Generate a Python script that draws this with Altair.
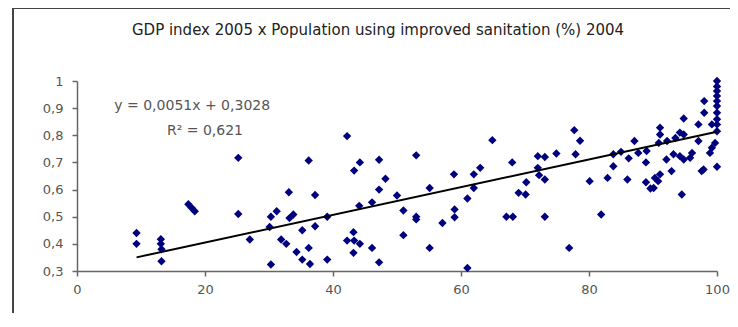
import altair as alt
import pandas as pd

title_text = "GDP index 2005 x Population using improved sanitation (%) 2004"

x_vals = [
    9.3, 9.3, 13.1, 13.1, 13.2, 13.2, 17.4, 17.9, 18.4,
    25.2, 25.2, 27.0, 30.1, 30.3, 30.3, 31.2, 31.9, 32.7, 33.1, 33.2, 33.8,
    34.3, 35.2, 35.2, 36.2, 36.2, 36.4, 37.2, 37.2, 39.1, 39.1,
    42.2, 43.3, 44.2, 47.2, 53.0, 48.2, 47.2, 58.9, 55.1, 50.0, 46.1, 44.1,
    51.0, 53.0, 53.0, 57.1, 59.0, 59.0, 43.2, 42.2, 43.3, 44.2, 43.2, 46.1,
    51.0, 55.1, 47.2,
    64.9, 63.0, 62.0, 62.0, 61.0, 68.0, 72.0, 73.1, 74.9, 77.9, 72.0, 72.2,
    73.1, 70.2, 69.0, 70.1, 67.1, 68.1, 73.1, 76.9, 61.0, 77.7, 78.6,
    80.1, 82.9, 81.9, 83.8, 83.8, 85.0, 86.2, 87.1, 87.7, 88.9, 86.0, 88.9, 89.6,
    89.0, 90.9, 91.1, 91.1, 92.2, 92.1, 92.9, 91.1, 90.3, 90.8, 90.1,
    93.2, 94.2, 94.8, 95.8, 96.1, 93.5, 94.2, 94.8, 94.8, 97.1, 97.1, 98.0,
    98.0, 99.2, 94.5, 97.6, 97.9, 98.9, 99.2, 99.7, 100.0,
    100.0, 100.0, 100.0, 100.0, 100.0, 100.0, 100.0, 100.0, 100.0, 100.0,
]
y_vals = [
    0.44, 0.40, 0.417, 0.40, 0.38, 0.336, 0.546, 0.533, 0.52,
    0.717, 0.51, 0.416, 0.462, 0.50, 0.324, 0.52, 0.416, 0.40, 0.59, 0.495, 0.508,
    0.37, 0.45, 0.342, 0.707, 0.385, 0.326, 0.58, 0.465, 0.50, 0.342,
    0.797, 0.67, 0.70, 0.71, 0.726, 0.64, 0.60, 0.656, 0.606, 0.578, 0.553, 0.54,
    0.523, 0.50, 0.49, 0.477, 0.527, 0.498, 0.443, 0.412, 0.412, 0.40, 0.367, 0.385,
    0.432, 0.385, 0.332,
    0.782, 0.68, 0.656, 0.606, 0.567, 0.70, 0.723, 0.72, 0.733, 0.73, 0.68, 0.653,
    0.637, 0.627, 0.588, 0.582, 0.50, 0.50, 0.50, 0.385, 0.311, 0.819, 0.78,
    0.631, 0.643, 0.508, 0.686, 0.73, 0.739, 0.715, 0.779, 0.735, 0.70, 0.637, 0.627, 0.604,
    0.742, 0.772, 0.828, 0.803, 0.779, 0.711, 0.668, 0.656, 0.643, 0.631, 0.606,
    0.73, 0.723, 0.711, 0.717, 0.735, 0.79, 0.81, 0.803, 0.862, 0.779, 0.84, 0.926,
    0.883, 0.84, 0.582, 0.668, 0.674, 0.735, 0.754, 0.772, 0.684,
    1.0, 0.98, 0.963, 0.945, 0.926, 0.908, 0.883, 0.859, 0.84, 0.815,
]

# Trendline as stated on the chart: y = 0,0051x + 0,3028
trend_slope = 0.0051
trend_intercept = 0.3028
trend_x = [9.3, 100.0]

eq_text = ["y = 0,0051x + 0,3028", "R² = 0,621"]
eq_x = [18.0, 20.0]
eq_y = [0.908, 0.815]

x_ticks = [0, 20, 40, 60, 80, 100]
y_ticks = [0.3, 0.4, 0.5, 0.6, 0.7, 0.8, 0.9, 1.0]

pts = pd.DataFrame({"x": x_vals, "y": y_vals})
trend_df = pd.DataFrame({
    "x": trend_x,
    "y": [trend_slope * v + trend_intercept for v in trend_x],
})
eq_df = pd.DataFrame({"x": eq_x, "y": eq_y, "t": eq_text})

x_scale = alt.Scale(domain=[0, 100], nice=False, zero=False)
y_scale = alt.Scale(domain=[0.3, 1.0], nice=False, zero=False)

common_axis = dict(
    title=None, grid=False, domainColor="#666", domainWidth=1.5,
    tickColor="#666", tickSize=5, tickWidth=1.5,
    labelFont="DejaVu Sans", labelFontSize=13, labelColor="#555",
    labelFlush=False, labelOverlap=False,
)
x_axis = alt.Axis(values=x_ticks, labelPadding=7, **common_axis)
y_axis = alt.Axis(
    values=y_ticks, labelPadding=9,
    labelExpr="replace(format(datum.value, '.1~f'), '.', ',')",
    **common_axis,
)

enc_x = alt.X("x:Q", scale=x_scale, axis=x_axis)
enc_y = alt.Y("y:Q", scale=y_scale, axis=y_axis)

frame = alt.Chart(pd.DataFrame({"a": [0]})).mark_rect(
    fillOpacity=0, stroke="#444", strokeWidth=2
).encode(
    x=alt.value(-64), x2=alt.value(800), y=alt.value(-73), y2=alt.value(500)
)

points = alt.Chart(pts).mark_point(
    shape="diamond", filled=True, size=70, color="#00007f", opacity=1
).encode(x=enc_x, y=enc_y)

trend = alt.Chart(trend_df).mark_line(
    color="black", strokeWidth=2
).encode(x=enc_x, y=enc_y)

eq = alt.Chart(eq_df).mark_text(
    font="DejaVu Sans", fontSize=14, color="#555"
).encode(x=enc_x, y=enc_y, text="t:N")

title = alt.Chart(pd.DataFrame({"t": [title_text]})).mark_text(
    font="DejaVu Sans", fontSize=15, color="#222", baseline="middle"
).encode(x=alt.value(301), y=alt.value(-51), text="t:N")

chart = alt.layer(frame, points, trend, eq, title).properties(
    width=640, height=190,
    padding={"left": 69, "top": 73, "right": 13, "bottom": 42},
    autosize="none",
).configure_view(stroke=None).configure_axis(labelOverlap=False)

chart.save("out.html", embed_options={"renderer": "svg", "actions": False})
